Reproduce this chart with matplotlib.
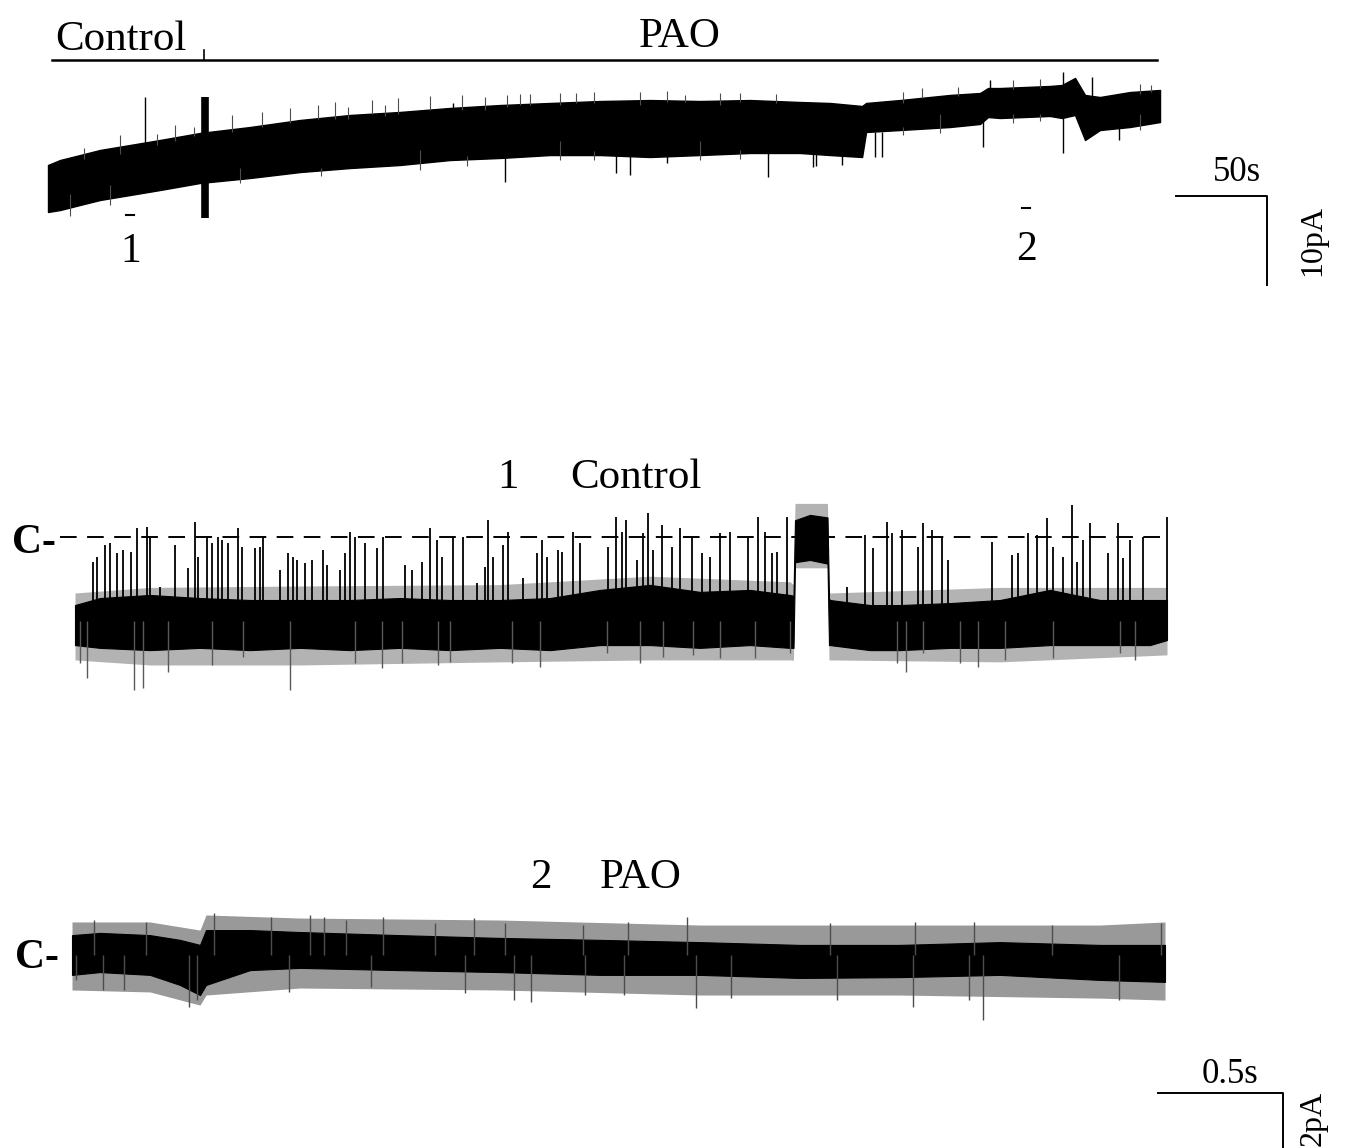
import matplotlib
matplotlib.use("Agg")
import matplotlib.pyplot as plt

plt.rcParams['font.family'] = ['Liberation Serif', 'DejaVu Serif']
plt.rcParams['lines.scale_dashes'] = False

W, H = 1353, 1148

# ---- long recording (s, pA) ----
a_t = [0, 6.6, 17.6, 28.6, 45.1, 61.5, 83.5, 111, 138.5, 165.9, 193.4, 220.9, 248.4,
       275.8, 303.3, 330.8, 358.2, 385.7, 413.2, 429.7, 447.3, 449.5, 468.1, 495.6,
       512.1, 516.5, 523.1, 550.5, 557.1, 564.3, 569.8, 578, 594.5, 611]
a_hi = [5.28, 5.84, 6.40, 6.97, 7.53, 8.09, 8.88, 9.55, 10.34, 10.90, 11.24, 11.69, 12.02,
        12.25, 12.47, 12.58, 12.47, 12.58, 12.36, 12.25, 11.91, 12.25, 12.58, 13.15,
        13.37, 13.93, 13.93, 14.16, 14.27, 15.06, 13.15, 12.92, 13.48, 13.71]
a_lo = [0, 0.22, 0.79, 1.35, 1.91, 2.47, 3.26, 3.82, 4.49, 4.94, 5.28, 5.84, 6.07,
        6.40, 6.40, 6.18, 6.40, 6.63, 6.63, 6.40, 6.18, 8.99, 9.21, 9.55,
        9.89, 10.67, 10.56, 10.79, 10.56, 10.90, 8.09, 9.21, 9.55, 10.11]
# big events (base level, tip)
a_spk_t = [53.3, 222.5, 517.6, 573.6, 557.7, 251.1, 312.1, 319.8, 340.1, 395.6,
           420.3, 422.0, 436.3, 454.4, 458.2, 513.7, 557.7, 588.5]
a_spk_base = [4.0, 11.0, 12.0, 12.0, 12.5, 7.0, 8.0, 8.0, 8.5, 8.5,
              8.5, 8.5, 8.5, 9.0, 9.0, 11.0, 11.0, 11.0]
a_spk_tip = [12.92, 12.25, 14.83, 15.17, 15.73, 3.37, 4.38, 4.16, 5.51, 3.93,
             5.06, 5.2, 5.28, 6.18, 6.18, 7.30, 6.63, 8.09]
# small hairs on the band edges
a_hair_t = [39.6, 69.8, 101.1, 117.6, 133, 148.4, 157.7, 178, 192.3, 209.9, 227.5,
            259.3, 281.3, 325.3, 369.2, 12.1, 34.1, 105.5, 204.4, 281.3, 358.2, 490.1, 600,
            240, 252, 265, 290, 300, 340, 350, 380, 400, 60, 80, 20, 165, 185, 470, 480,
            500, 530, 545, 600, 606, 150, 230, 300, 380, 470, 530, 545]
a_hair_base = [6.5, 8.0, 9.0, 9.5, 10.0, 10.5, 10.5, 11.0, 11.0, 11.5, 11.5,
               12.0, 12.0, 12.0, 12.0, 2.0, 3.0, 5.0, 7.0, 8.0, 8.0, 11.0, 11.0,
               11.5, 11.8, 12.0, 12.2, 12.3, 12.4, 12.4, 12.4, 12.3, 7.5, 8.5, 6.0, 10.5,
               10.8, 12.3, 12.8, 13.0, 13.8, 13.9, 13.3, 13.5, 5.0, 6.3, 6.8, 7.0, 9.5,
               11.0, 11.0]
a_hair_tip = [8.65, 9.78, 10.9, 11.24, 11.69, 12.02, 12.36, 12.58, 12.81, 13.03, 13.15,
              13.26, 13.37, 13.48, 13.37, -0.45, 0.79, 3.26, 4.72, 5.84, 5.84, 8.88, 9.21,
              12.9, 13.1, 13.3, 13.4, 13.5, 13.6, 13.2, 13.4, 13.3, 8.8, 9.6, 7.2, 11.8,
              12.0, 13.5, 13.9, 14.0, 14.8, 14.9, 14.4, 14.3, 4.0, 5.2, 5.8, 6.0, 8.6,
              10.0, 10.2]
artifact_t = 86.3
artifact_lo, artifact_hi = -0.67, 12.92
pao_start = 85.7
rec_end = 611
seg1_start, seg2_start = 43, 535
seg_len = 4.37

# ---- segment 1, control (ms, pA, closed level = 0) ----
b_t = [0, 100, 300, 500, 700, 900, 1100, 1300, 1500, 1700, 1900, 2100, 2300, 2500, 2700,
       2860, 2874, 2880, 2940, 3010, 3016, 3020, 3180, 3300, 3500, 3700, 3900, 4100, 4300, 4368]
b_hi = [-2.43, -2.18, -2.07, -2.18, -2.25, -2.25, -2.25, -2.18, -2.25, -2.25, -2.18, -1.89,
        -1.71, -1.96, -1.89, -2.07, -2.1, 0.6, 0.79, 0.7, -2.2, -2.25, -2.43, -2.43, -2.36,
        -2.25, -1.89, -2.25, -2.25, -2.25]
b_lo = [-3.86, -3.96, -4.04, -3.96, -4.04, -3.96, -4.04, -3.96, -4.04, -3.96, -4.04, -3.86,
        -3.86, -3.96, -3.86, -3.96, -3.96, -0.9, -0.82, -0.95, -3.86, -3.86, -4.04, -4.04,
        -3.96, -3.96, -3.86, -3.86, -3.86, -3.68]
b_out_t = [0, 300, 900, 1700, 2300, 2860, 2874, 2880, 3010, 3016, 3020, 3700, 4368]
b_out_hi = [-2.0, -1.8, -1.75, -1.7, -1.4, -1.6, -1.7, 1.2, 1.2, -1.9, -2.0, -1.8, -1.8]
b_out_lo = [-4.39, -4.57, -4.57, -4.46, -4.39, -4.39, -4.4, -1.1, -1.1, -4.4, -4.39, -4.46, -4.21]
# brief closures: time and tip level
b_close_t = [72, 88, 120, 140, 168, 192, 224, 248, 288, 300, 340, 400, 452, 480, 492, 528,
             548, 572, 588, 612, 652, 668, 720, 740, 752, 820, 852, 872, 888, 920, 948, 992,
             1008, 1060, 1080, 1100, 1120, 1160, 1208, 1232, 1320, 1348, 1388, 1420, 1448,
             1468, 1512, 1552, 1608, 1640, 1652, 1672, 1712, 1732, 1792, 1848, 1868, 1888,
             1932, 1948, 1992, 2020, 2132, 2164, 2188, 2204, 2248, 2272, 2292, 2312, 2348,
             2388, 2420, 2468, 2508, 2540, 2580, 2620, 2692, 2732, 2760, 2788, 2808, 2848,
             3088, 3160, 3192, 3248, 3268, 3308, 3372, 3392, 3428, 3468, 3492, 3668, 3748,
             3772, 3812, 3848, 3888, 3912, 3952, 3988, 4008, 4032, 4060, 4132, 4172, 4192,
             4220, 4272, 4368]
b_close_tip = [-0.89, -0.71, -0.29, -0.21, -0.57, -0.46, -0.54, 0.32, 0.36, 0.0, -1.79, -0.29,
               -1.11, 0.54, -0.71, 0.0, -0.21, 0.0, -0.11, -0.21, 0.32, -0.36, -0.39, -0.36,
               0.0, -1.18, -0.57, -0.71, -0.82, -0.93, -0.82, -0.46, -1.0, -1.18, -0.57, 0.18,
               0.0, -0.21, -0.39, 0.0, -1.0, -1.18, -0.89, 0.32, -0.11, -0.71, 0.0, 0.0, -1.64,
               -1.07, 0.61, -0.71, -0.29, 0.18, -1.46, -0.57, -0.11, -0.71, -0.46, -0.54, 0.18,
               -0.21, -0.36, 0.71, 0.18, 0.61, -0.82, 0.14, 0.86, -0.46, 0.43, -0.36, 0.32, 0.0,
               -0.57, -0.71, 0.14, 0.18, -0.04, 0.71, 0.18, -0.57, -0.54, 0.71, -1.79, 0.07,
               -0.39, 0.54, 0.14, 0.25, -0.36, 0.5, 0.25, 0.0, -0.82, -0.18, -0.64, -0.57, 0.14,
               0.07, 0.68, -0.36, -0.71, 1.14, -0.89, -0.11, 0.5, -0.57, 0.5, -0.75, -0.11, 0.0,
               0.71]
b_down_t = [20, 48, 236, 272, 372, 548, 672, 860, 1120, 1228, 1308, 1452, 1500, 1748, 1860,
            2128, 2260, 2352, 2472, 2580, 2720, 2860, 3288, 3324, 3392, 3540, 3612, 3720,
            3912, 4180, 4240]
b_down_tip = [-4.5, -5.04, -5.46, -5.39, -4.82, -4.57, -4.29, -5.46, -4.5, -4.68, -4.5, -4.57,
              -4.46, -4.5, -4.64, -4.14, -4.5, -4.29, -4.21, -4.32, -4.32, -4.14, -4.5, -4.82,
              -4.14, -4.5, -4.64, -4.39, -4.32, -4.14, -4.39]

# ---- segment 2, PAO (ms, pA, closed level = 0) ----
c_t = [0, 112, 312, 432, 512, 536, 712, 912, 1312, 1712, 2112, 2512, 2912, 3312, 3712, 4112, 4372]
c_hi = [0.71, 0.79, 0.71, 0.54, 0.36, 0.89, 0.89, 0.82, 0.71, 0.61, 0.54, 0.46, 0.36, 0.36,
        0.46, 0.36, 0.36]
c_lo = [-0.71, -0.61, -0.71, -1.07, -1.43, -1.07, -0.54, -0.46, -0.54, -0.61, -0.71, -0.71,
        -0.82, -0.79, -0.71, -0.89, -0.96]
c_out_t = [0, 312, 512, 536, 912, 1712, 2512, 3312, 4112, 4372]
c_out_hi = [1.18, 1.18, 0.89, 1.43, 1.32, 1.25, 1.07, 1.07, 1.07, 1.18]
c_out_lo = [-1.25, -1.32, -1.79, -1.43, -1.18, -1.25, -1.43, -1.43, -1.54, -1.61]
c_up_t = [568, 796, 952, 1008, 1244, 1608, 1732, 2044, 88, 296, 1096, 1452, 2224, 2460, 3032,
          3372, 3608, 3920, 4356]
c_up_tip = [1.5, 1.36, 1.43, 1.36, 1.36, 1.32, 1.14, 1.07, 1.25, 1.18, 1.25, 1.14, 1.18, 1.36,
            1.14, 1.18, 1.18, 1.07, 1.14]
c_down_t = [468, 500, 868, 1572, 1836, 1768, 16, 124, 208, 1196, 2052, 2496, 2636, 3364, 3644,
            3588, 3060, 4188, 2208]
c_down_tip = [-1.86, -1.61, -1.32, -1.36, -1.68, -1.61, -0.89, -1.25, -1.25, -1.14, -1.43,
              -1.89, -1.54, -1.86, -2.32, -1.61, -1.61, -1.61, -1.43]


def fx(px):
    return px / W


def fy(py):
    return 1 - py / H


def panel(fig, top, bottom, x0, sx, y0, sy):
    # axes spanning the full width; x0/y0 = pixel of data origin, sx/sy = pixels per unit
    ax = fig.add_axes([0, 1 - bottom / H, 1, (bottom - top) / H])
    ax.set_xlim(-x0 / sx, (W - x0) / sx)
    ax.set_ylim((y0 - bottom) / sy, (y0 - top) / sy)
    ax.set_axis_off()
    return ax


fig = plt.figure(figsize=(W / 100, H / 100), dpi=100)

# ---------- top: whole experiment ----------
ax = panel(fig, 0, 300, 48, 1.82, 212, 8.9)
ax.fill_between(a_t, a_lo, a_hi, color='black', lw=1.0)
ax.vlines(a_hair_t, a_hair_base, a_hair_tip, color='0.3', lw=0.8)
ax.vlines(a_spk_t, a_spk_base, a_spk_tip, color='black', lw=1.0)
ax.vlines(artifact_t, artifact_lo, artifact_hi, color='black', lw=5.5)
# drug application bar
ax.plot([2.2, rec_end - 1.7], [17.08, 17.08], color='black', lw=1.8)
ax.plot([pao_start, pao_start], [17.08, 18.2], color='black', lw=1.2)
# segments shown below
ax.plot([seg1_start, seg1_start + seg_len], [-0.34, -0.34], color='black', lw=1.5)
ax.plot([seg2_start, seg2_start + seg_len], [0.45, 0.45], color='black', lw=1.5)
# scale bar 50 s / 10 pA
ax.plot([619.8, 669.8, 669.8], [1.8, 1.8, -8.2], color='black', lw=1.4, clip_on=False)

fig.text(fx(55), fy(50), 'Control', fontsize=31, ha='left', va='baseline')
fig.text(fx(680), fy(47), 'PAO', fontsize=31, ha='center', va='baseline')
fig.text(fx(131), fy(262), '1', fontsize=30, ha='center', va='baseline')
fig.text(fx(1027), fy(260), '2', fontsize=30, ha='center', va='baseline')
fig.text(fx(1237), fy(181), '50s', fontsize=25, ha='center', va='baseline')
fig.text(fx(1313), fy(240), '10pA', fontsize=23, ha='center', va='center', rotation=90)

# ---------- middle: control segment ----------
ax = panel(fig, 440, 740, 75, 0.25, 537, 28)
ax.plot([-60, 4368], [0, 0], color='black', lw=1.4, dashes=(12, 7.5))
ax.fill_between(b_out_t, b_out_lo, b_out_hi, color='0.7', lw=0)
ax.fill_between(b_t, b_lo, b_hi, color='black', lw=0.8)
ax.vlines(b_close_t, -3.0, b_close_tip, color='black', lw=1.3)
ax.vlines(b_down_t, -3.0, b_down_tip, color='0.35', lw=1.0)
fig.text(fx(508), fy(488), '1', fontsize=31, ha='center', va='baseline')
fig.text(fx(570), fy(488), 'Control', fontsize=31, ha='left', va='baseline')
fig.text(fx(12), fy(553), 'C-', fontsize=30, fontweight='bold', ha='left', va='baseline')

# ---------- bottom: PAO segment ----------
ax = panel(fig, 840, 1148, 72, 0.25, 955, 28)
ax.fill_between(c_out_t, c_out_lo, c_out_hi, color='0.6', lw=0)
ax.fill_between(c_t, c_lo, c_hi, color='black', lw=0.8)
ax.vlines(c_up_t, 0, c_up_tip, color='0.3', lw=1.0)
ax.vlines(c_down_t, 0, c_down_tip, color='0.3', lw=1.0)
# scale bar 0.5 s / 2 pA
ax.plot([4344, 4844, 4844], [-4.93, -4.93, -6.93], color='black', lw=1.4, clip_on=False)
fig.text(fx(541), fy(888), '2', fontsize=31, ha='center', va='baseline')
fig.text(fx(600), fy(888), 'PAO', fontsize=31, ha='left', va='baseline')
fig.text(fx(15), fy(968), 'C-', fontsize=30, fontweight='bold', ha='left', va='baseline')
fig.text(fx(1230), fy(1083), '0.5s', fontsize=25, ha='center', va='baseline')
fig.text(fx(1313), fy(1118), '2pA', fontsize=23, ha='center', va='center', rotation=90)

fig.savefig('out.png', dpi=100)
